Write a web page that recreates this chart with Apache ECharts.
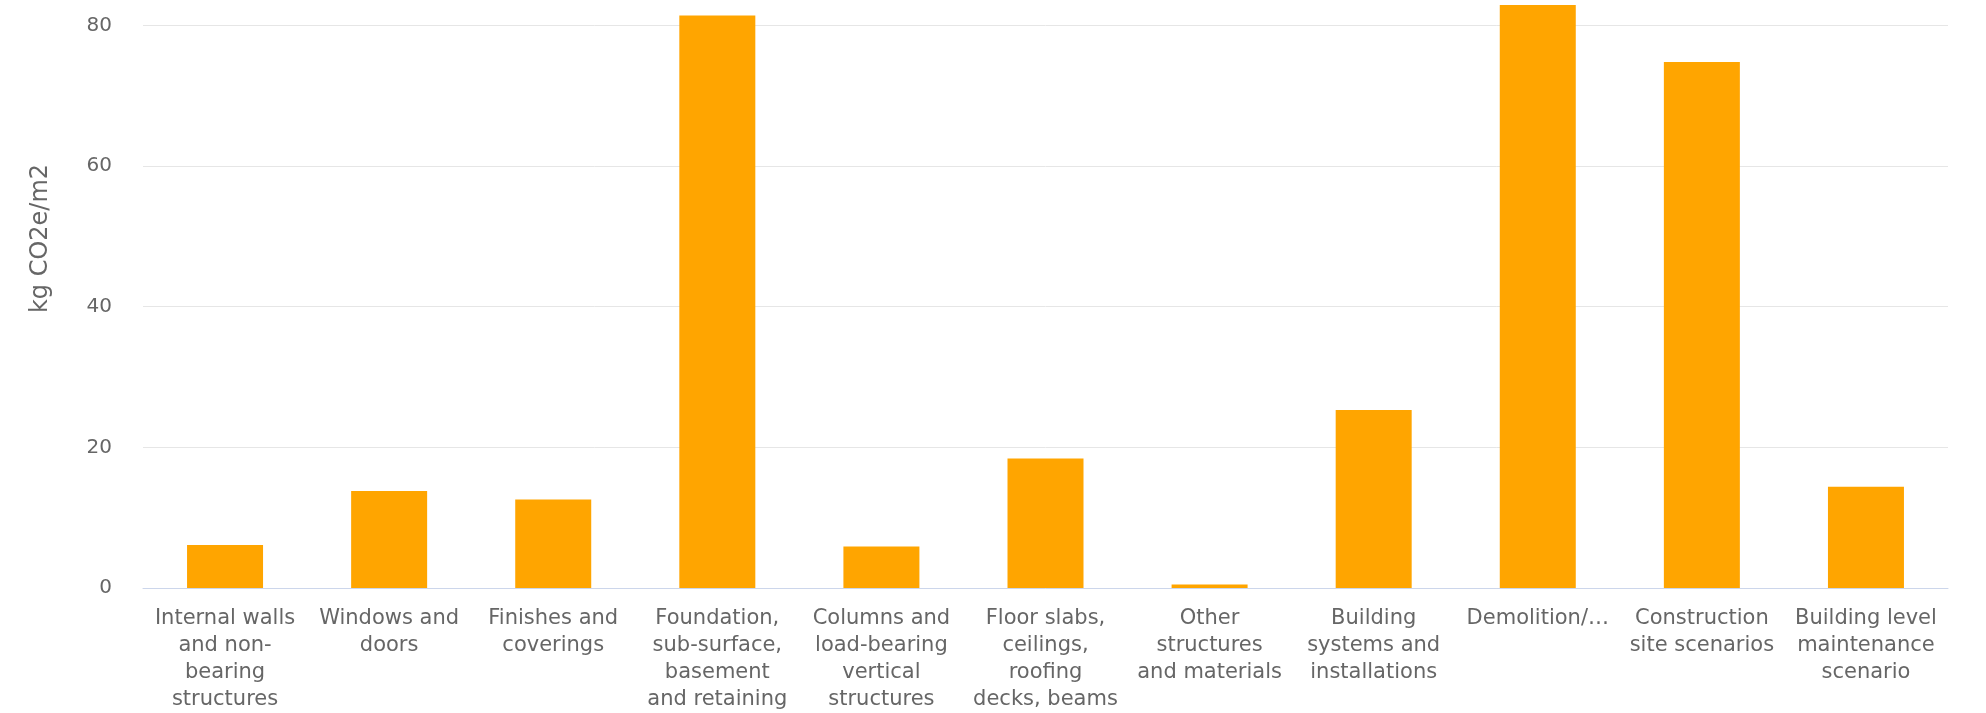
<!DOCTYPE html>
<html>
<head>
<meta charset="utf-8">
<script src="https://cdn.jsdelivr.net/npm/echarts@6/dist/echarts.min.js"></script>
<style>
html,body{margin:0;padding:0;background:#fff;}
#chart{width:1986px;height:713px;}
</style>
</head>
<body>
<div id="chart"></div>
<script>
const categories = [
  "Internal walls\nand non-\nbearing\nstructures",
  "Windows and\ndoors",
  "Finishes and\ncoverings",
  "Foundation,\nsub-surface,\nbasement\nand retaining",
  "Columns and\nload-bearing\nvertical\nstructures",
  "Floor slabs,\nceilings,\nroofing\ndecks, beams",
  "Other\nstructures\nand materials",
  "Building\nsystems and\ninstallations",
  "Demolition/…",
  "Construction\nsite scenarios",
  "Building level\nmaintenance\nscenario"
];
const values = [6.1, 13.8, 12.6, 81.4, 5.9, 18.4, 0.5, 25.3, 82.9, 74.8, 14.4];
const yAxisTitle = "kg CO2e/m2";

const chart = echarts.init(document.getElementById('chart'), null, {renderer: 'canvas'});
chart.setOption({
  animation: false,
  backgroundColor: '#ffffff',
  textStyle: {fontFamily: 'DejaVu Sans'},
  grid: {left: 143, right: 38, top: 5, bottom: 125, containLabel: false},
  xAxis: {
    type: 'category',
    data: categories,
    axisLine: {show: true, lineStyle: {color: '#ccd6eb', width: 1}},
    axisTick: {show: false},
    axisLabel: {
      interval: 0,
      color: '#666666',
      fontSize: 21,
      lineHeight: 27,
      margin: 17,
      align: 'center'
    }
  },
  yAxis: {
    type: 'value',
    min: 0,
    max: 'dataMax',
    interval: 20,
    name: yAxisTitle,
    nameLocation: 'middle',
    nameRotate: 90,
    nameGap: 90,
    nameTextStyle: {color: '#666666', fontSize: 24, padding: [0, 0, 0, 116]},
    axisLine: {show: false},
    axisTick: {show: false},
    axisLabel: {color: '#666666', fontSize: 20, margin: 31, showMaxLabel: false},
    splitLine: {show: true, showMaxLine: false, lineStyle: {color: '#e6e6e6', width: 1}}
  },
  series: [{
    type: 'bar',
    data: values,
    barWidth: 76,
    itemStyle: {color: '#ffa500', borderColor: '#ffffff', borderWidth: 0}
  }]
});
</script>
</body>
</html>
